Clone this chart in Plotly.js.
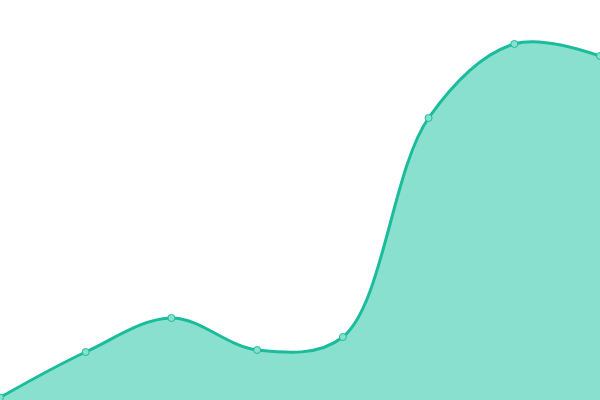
<!DOCTYPE html>
<html>
<head>
<meta charset="utf-8">
<script src="https://cdn.plot.ly/plotly-3.0.1.min.js"></script>
<style>
html, body { margin: 0; padding: 0; background: #fff; }
#chart { width: 600px; height: 400px; }
</style>
</head>
<body>
<div id="chart"></div>
<script>
var steps = [0, 1, 2, 3, 4, 5, 6, 7]
var values = [2.5, 48, 82, 50, 63, 282, 356, 344]

var data = {
    x: steps,
    y: values,
    mode: 'lines+markers',
    fill: 'tozeroy',
    fillcolor: '#8ae0cf',
    line: { color: '#1abc9c', width: 3, shape: 'spline', smoothing: 1 },
    marker: { color: '#8ae0cf', size: 7, line: { color: '#1abc9c', width: 1 } },
    hoverinfo: 'none'
}

var layout = {
    margin: { l: 0, r: 0, b: 0, t: 0, pad: 0 },
    paper_bgcolor: '#fff',
    plot_bgcolor: '#fff',
    showlegend: false,
    xaxis: { range: [0, 7], visible: false, fixedrange: true },
    yaxis: { range: [0, 400], visible: false, fixedrange: true }
}

var config = { responsive: false, displayModeBar: false, staticPlot: true }

Plotly.newPlot('chart', [data], layout, config)
</script>
</body>
</html>
